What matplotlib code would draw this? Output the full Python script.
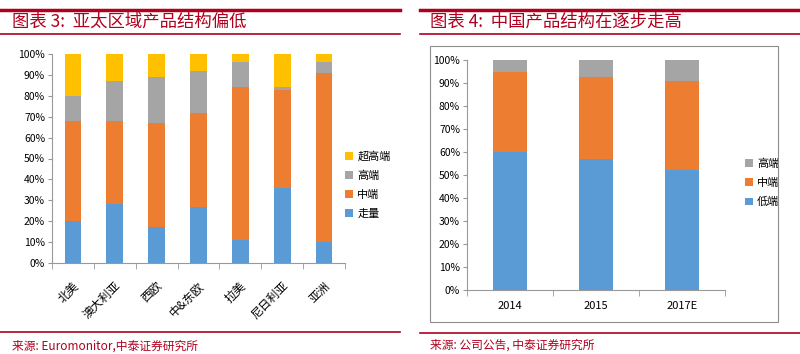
import matplotlib.pyplot as plt
import matplotlib.transforms as mtransforms
from matplotlib.patches import Rectangle
from matplotlib.lines import Line2D

plt.rcParams['font.family'] = ['Noto Sans CJK SC', 'DejaVu Sans']

# left chart: Asia-Pacific product mix
regions = ['北美', '澳大利亚', '西欧', '中&东欧', '拉美', '尼日利亚', '亚洲']
low_l = [20, 28, 17, 27, 11, 36, 10]
mid_l = [48, 40, 50, 45, 73, 47, 81]
high_l = [12, 19, 22, 20, 12, 1, 5]
top_l = [20, 13, 11, 8, 4, 16, 4]
names_l = ['走量', '中端', '高端', '超高端']

# right chart: China product mix
years = ['2014', '2015', '2017E']
low_r = [60, 57, 52]
mid_r = [35, 35.5, 39]
high_r = [5, 7.5, 9]
names_r = ['低端', '中端', '高端']

BLUE, ORANGE, GRAY, YELLOW = '#5B9BD5', '#ED7D31', '#A5A5A5', '#FFC000'
RED = '#B0001E'
W, H = 800, 354

fig = plt.figure(figsize=(8, 3.54), dpi=100)


def px_axes(x0, y0, x1, y1):
    return fig.add_axes([x0 / W, 1 - y1 / H, (x1 - x0) / W, (y1 - y0) / H])


def hline(x0, x1, y, lw):
    fig.add_artist(Line2D([x0 / W, x1 / W], [1 - y / H, 1 - y / H], color=RED, lw=lw))


def style_axes(ax, n):
    for s in ['top', 'right']:
        ax.spines[s].set_visible(False)
    for s in ['left', 'bottom']:
        ax.spines[s].set_color('#999999')
        ax.spines[s].set_linewidth(0.8)
    ax.set_ylim(0, 100)
    ax.set_xlim(-0.5, n - 0.5)
    ax.set_yticks(range(0, 101, 10))
    ax.set_yticklabels([f'{v}%' for v in range(0, 101, 10)])
    ax.tick_params(axis='y', labelsize=7.5, color='#999999', length=3, pad=2)
    ax.set_xticks([i - 0.5 for i in range(n + 1)], minor=True)
    ax.tick_params(axis='x', which='minor', length=4, color='#999999')
    ax.tick_params(axis='x', which='major', length=0, labelsize=7.5)


# left panel
hline(0, 400, 10, 2.5)
hline(0, 400, 34, 1.2)
hline(0, 400, 332, 1.2)
fig.text(12 / W, 1 - 22 / H, '图表 3:  亚太区域产品结构偏低', color=RED, fontsize=12.5,
         style='italic', va='center')
fig.text(12 / W, 1 - 346 / H, '来源: Euromonitor,中泰证券研究所', color=RED, fontsize=8.5, va='center')

ax1 = px_axes(52, 54, 345, 263)
x = range(len(regions))
bw = 0.4
b1 = ax1.bar(x, low_l, bw, color=BLUE)
b2 = ax1.bar(x, mid_l, bw, bottom=low_l, color=ORANGE)
base = [a + b for a, b in zip(low_l, mid_l)]
b3 = ax1.bar(x, high_l, bw, bottom=base, color=GRAY)
base = [a + b for a, b in zip(base, high_l)]
b4 = ax1.bar(x, top_l, bw, bottom=base, color=YELLOW)
style_axes(ax1, len(regions))
ax1.set_xticks(list(x))
ax1.set_xticklabels(regions, rotation=45, ha='right', va='center', rotation_mode='anchor', fontsize=8.5)
ax1.tick_params(axis='x', which='major', pad=15)
shift = mtransforms.ScaledTranslation(4 / 100, 0, fig.dpi_scale_trans)
for lab in ax1.get_xticklabels():
    lab.set_transform(lab.get_transform() + shift)
ax1.legend([b4, b3, b2, b1], names_l[::-1], loc='center left', bbox_to_anchor=(335 / W, 1 - 185 / H),
           bbox_transform=fig.transFigure, frameon=False, fontsize=8, handlelength=0.7,
           handleheight=0.7, handletextpad=0.4, labelspacing=0.8)

# right panel
hline(420, 800, 10, 2.5)
hline(420, 800, 34, 1.2)
hline(420, 800, 333, 1.2)
fig.text(430 / W, 1 - 22 / H, '图表 4:  中国产品结构在逐步走高', color=RED, fontsize=12.5,
         style='italic', va='center')
fig.text(430 / W, 1 - 345 / H, '来源: 公司公告, 中泰证券研究所', color=RED, fontsize=8.5, va='center')
fig.add_artist(Rectangle((430 / W, 1 - 322 / H), 348 / W, 276 / H, transform=fig.transFigure,
                         fill=False, edgecolor='#8C8C8C', lw=0.8))

ax2 = px_axes(467, 60, 725, 290)
x = range(len(years))
c1 = ax2.bar(x, low_r, bw, color=BLUE)
c2 = ax2.bar(x, mid_r, bw, bottom=low_r, color=ORANGE)
base = [a + b for a, b in zip(low_r, mid_r)]
c3 = ax2.bar(x, high_r, bw, bottom=base, color=GRAY)
style_axes(ax2, len(years))
ax2.set_xticks(list(x))
ax2.set_xticklabels(years, fontsize=8)
ax2.tick_params(axis='x', which='major', pad=8)
ax2.legend([c3, c2, c1], names_r[::-1], loc='center left', bbox_to_anchor=(735 / W, 1 - 183 / H),
           bbox_transform=fig.transFigure, frameon=False, fontsize=8, handlelength=0.7,
           handleheight=0.7, handletextpad=0.4, labelspacing=0.8)

fig.savefig('out.png', dpi=100)
